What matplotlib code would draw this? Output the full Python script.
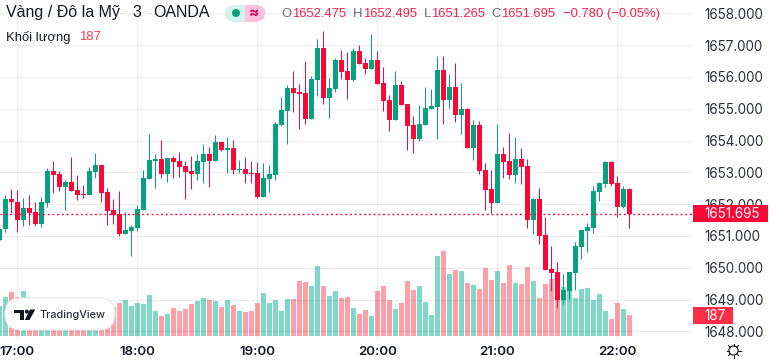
import numpy as np
import matplotlib
matplotlib.use('Agg')
import matplotlib.pyplot as plt
from matplotlib.patches import Circle, FancyBboxPatch, Polygon, Rectangle

plt.rcParams['font.family'] = ['Inter', 'DejaVu Sans']
SANS = ['Liberation Sans', 'DejaVu Sans']

# 3 minute bars, index 3 = 17:00
opens = [1650.86, 1651.22, 1652.17, 1652.08, 1651.49, 1651.89, 1651.76, 1651.38, 1652.05, 1653.05,
         1652.96, 1652.55, 1652.70, 1652.45, 1652.33, 1652.30, 1653.02, 1653.24, 1652.39, 1651.83,
         1651.70, 1651.07, 1651.16, 1651.26, 1651.83, 1652.80, 1653.37, 1653.43, 1652.96, 1653.46,
         1653.37, 1653.21, 1653.05, 1652.96, 1653.33, 1653.59, 1653.37, 1653.96, 1653.71, 1653.77,
         1653.08, 1653.11, 1652.99, 1652.99, 1652.23, 1652.80, 1652.92, 1654.48, 1654.94, 1655.66,
         1655.53, 1655.50, 1654.68, 1655.91, 1656.92, 1655.34, 1655.63, 1656.54, 1656.19, 1655.91,
         1656.82, 1656.44, 1656.26, 1656.54, 1655.82, 1655.28, 1654.65, 1655.75, 1655.15, 1654.49,
         1654.05, 1654.49, 1655.00, 1655.06, 1656.22, 1655.28, 1655.69, 1654.81, 1655.00, 1653.78,
         1654.49, 1653.08, 1652.49, 1652.05, 1653.59, 1653.37, 1652.93, 1653.43, 1653.21, 1651.51,
         1652.17, 1651.04, 1649.97, 1649.87, 1649.00, 1649.27, 1649.84, 1650.66, 1651.16, 1651.26,
         1652.39, 1652.64, 1653.33, 1652.67, 1651.92, 1652.475]
highs = [1651.22, 1652.30, 1652.49, 1652.45, 1652.20, 1652.30, 1652.08, 1652.23, 1653.15, 1653.37,
         1653.05, 1652.77, 1653.49, 1652.93, 1652.61, 1653.18, 1653.62, 1653.24, 1652.52, 1652.17,
         1652.42, 1651.76, 1651.35, 1651.98, 1653.08, 1654.21, 1653.59, 1654.03, 1653.46, 1653.52,
         1653.65, 1653.37, 1653.52, 1653.59, 1653.90, 1653.81, 1654.18, 1653.96, 1654.12, 1654.03,
         1653.40, 1653.49, 1653.37, 1653.33, 1653.30, 1653.24, 1654.59, 1655.37, 1655.75, 1656.19,
         1655.78, 1656.51, 1656.04, 1657.20, 1657.45, 1655.97, 1656.60, 1656.85, 1656.79, 1656.92,
         1657.01, 1656.60, 1657.36, 1656.82, 1656.32, 1655.44, 1656.19, 1655.88, 1655.15, 1654.78,
         1655.13, 1655.69, 1655.63, 1656.66, 1656.66, 1656.10, 1656.44, 1655.82, 1655.03, 1654.65,
         1654.62, 1653.30, 1653.08, 1654.53, 1653.81, 1654.25, 1654.12, 1653.77, 1653.43, 1652.20,
         1652.52, 1651.60, 1650.69, 1650.19, 1649.81, 1649.87, 1650.82, 1651.20, 1651.42, 1652.58,
         1652.70, 1653.37, 1653.37, 1652.89, 1652.58, 1652.495]
lows = [1650.86, 1651.14, 1651.73, 1651.11, 1651.32, 1651.35, 1651.32, 1651.29, 1651.92, 1652.36,
        1652.42, 1651.83, 1652.42, 1652.14, 1652.20, 1652.30, 1652.83, 1652.08, 1651.35, 1651.38,
        1651.01, 1651.07, 1650.38, 1651.16, 1651.83, 1652.80, 1652.52, 1652.83, 1652.70, 1652.83,
        1652.86, 1652.17, 1652.49, 1652.77, 1652.67, 1652.55, 1653.37, 1653.68, 1652.99, 1652.96,
        1652.99, 1652.67, 1652.67, 1652.20, 1652.23, 1652.39, 1652.76, 1654.46, 1653.90, 1654.90,
        1654.37, 1654.53, 1654.68, 1655.41, 1655.15, 1654.71, 1655.53, 1655.94, 1655.31, 1655.88,
        1656.41, 1656.10, 1656.26, 1655.78, 1654.94, 1654.31, 1654.65, 1655.13, 1653.71, 1653.61,
        1653.99, 1654.49, 1655.00, 1654.05, 1654.53, 1655.03, 1654.59, 1654.21, 1653.77, 1653.39,
        1652.95, 1651.83, 1651.72, 1652.05, 1652.83, 1652.80, 1652.67, 1652.64, 1651.26, 1651.07,
        1650.76, 1649.93, 1649.27, 1648.74, 1648.87, 1649.02, 1649.30, 1650.28, 1650.50, 1651.10,
        1652.11, 1652.55, 1652.58, 1651.60, 1651.89, 1651.265]
closes = [1651.22, 1652.17, 1652.06, 1651.49, 1651.89, 1651.73, 1651.38, 1652.08, 1653.05, 1652.93,
          1652.55, 1652.70, 1652.42, 1652.30, 1652.30, 1653.05, 1653.24, 1652.36, 1651.79, 1651.67,
          1651.07, 1651.20, 1651.29, 1651.86, 1652.83, 1653.40, 1653.43, 1652.96, 1653.46, 1653.33,
          1653.18, 1653.02, 1652.96, 1653.37, 1653.59, 1653.37, 1653.96, 1653.71, 1653.77, 1653.08,
          1653.11, 1652.96, 1652.96, 1652.23, 1652.83, 1652.95, 1654.53, 1654.97, 1655.66, 1655.50,
          1655.47, 1654.68, 1655.94, 1656.92, 1655.34, 1655.66, 1656.54, 1656.16, 1655.91, 1656.82,
          1656.41, 1656.26, 1656.54, 1655.78, 1655.25, 1654.65, 1655.75, 1655.13, 1654.46, 1654.05,
          1654.53, 1655.03, 1655.09, 1656.22, 1655.28, 1655.69, 1654.81, 1655.00, 1653.77, 1654.49,
          1653.05, 1652.45, 1652.05, 1653.59, 1653.33, 1652.93, 1653.43, 1653.18, 1651.51, 1652.17,
          1651.01, 1649.93, 1649.84, 1649.00, 1649.30, 1649.87, 1650.69, 1651.20, 1651.29, 1652.42,
          1652.67, 1653.33, 1652.64, 1651.92, 1652.49, 1651.695]
volumes = [267, 347, 392, 350, 401, 246, 232, 246, 291, 261, 238, 261, 232, 217, 246, 276, 217, 261, 232, 261,
           294, 321, 267, 294, 285, 365, 223, 178, 196, 249, 223, 241, 285, 312, 339, 321, 312, 258, 321, 276,
           223, 214, 220, 294, 383, 294, 321, 223, 330, 330, 490, 481, 446, 624, 446, 356, 401, 339, 347, 249,
           196, 232, 178, 401, 446, 321, 241, 294, 490, 410, 446, 303, 187, 713, 757, 552, 588, 579, 472, 454,
           419, 606, 499, 579, 472, 633, 472, 463, 615, 490, 339, 463, 508, 499, 437, 410, 339, 419, 428, 321,
           374, 223, 151, 294, 241, 187]

price_ticks = [1648, 1649, 1650, 1651, 1652, 1653, 1654, 1655, 1656, 1657, 1658]
time_ticks = [3, 23, 43, 63, 83, 103]
time_labels = ['17:00', '18:00', '19:00', '20:00', '21:00', '22:00']
last_price = 1651.695
last_volume = 187

GREEN = '#06a17e'
RED = '#ff0538'
TEXT = '#131722'

x = np.arange(len(opens))
opens = np.array(opens)
closes = np.array(closes)
up = closes >= opens
colors = np.where(up, GREEN, RED)
vol_colors = np.where(up, '#80d8c9', '#ffa0a8')

fig = plt.figure(figsize=(7.73, 3.63), dpi=100)
rect = [0, 23 / 363, 692 / 773, 340 / 363]

# volumes go underneath, on their own scale
ax_vol = fig.add_axes(rect, zorder=0)
ax_vol.bar(x, volumes, width=5 / 6, color=vol_colors, linewidth=0)
ax_vol.set_xlim(0.5 / 6, 692.5 / 6)
ax_vol.set_ylim(-35.6, 2990)
ax_vol.axis('off')

ax = fig.add_axes(rect, zorder=1)
ax.patch.set_visible(False)
ax.vlines(x, lows, highs, color=colors, linewidth=0.72, zorder=3)
ax.bar(x, np.abs(closes - opens), bottom=np.minimum(opens, closes), width=5 / 6,
       color=colors, linewidth=0, zorder=4)
ax.axhline(last_price, color=RED, linewidth=1, linestyle=(0, (1.4, 2)), zorder=5)

ax.set_xlim(0.5 / 6, 692.5 / 6)
ax.set_ylim(1647.73, 1658.42)
ax.set_xticks(time_ticks)
ax.set_xticklabels(time_labels, fontsize=9.6, fontweight='semibold', color=TEXT)
ax.set_yticks(price_ticks)
ax.set_yticklabels([f'{p:.3f}' for p in price_ticks], fontsize=9.7, color='#2a2e39')
ax.yaxis.tick_right()
ax.tick_params(length=0)
ax.tick_params(axis='x', pad=4.3)
ax.tick_params(axis='y', pad=8.6)
ax.grid(True, color='black', alpha=0.065, linewidth=0.9)
ax.set_axisbelow(True)
for s in ax.spines.values():
    s.set_visible(False)

# overlay in pixel coordinates for the header, price tags and logo
ov = fig.add_axes([0, 0, 1, 1], zorder=5)
ov.set_xlim(0, 773)
ov.set_ylim(363, 0)
ov.axis('off')

ov.text(6, 12.5, 'Vàng / Đô la Mỹ', fontsize=11.5, family=SANS, color=TEXT, va='center')
ov.text(125.5, 12.5, '·', fontsize=9, family=SANS, color='#b2b5be', va='center', ha='center')
ov.text(132, 12.5, '3', fontsize=11.5, family=SANS, color=TEXT, va='center')
ov.text(146, 12.5, '·', fontsize=9, family=SANS, color='#b2b5be', va='center', ha='center')
ov.text(153, 12.5, 'OANDA', fontsize=11.5, family=SANS, color=TEXT, va='center')
ov.text(6, 37.5, 'Khối lượng', fontsize=9.4, family=SANS, color=TEXT, va='center')
ov.text(79, 37.5, '187', fontsize=9.4, family=SANS, color='#ff3b4e', va='center')

# market status pill
ov.add_patch(Circle((233, 13.25), 8.25, fc='#d5f3ec', ec='none'))
ov.add_patch(Circle((257, 13.25), 8.25, fc='#ffc2dd', ec='none'))
ov.add_patch(Rectangle((233, 5), 12, 16.5, fc='#d5f3ec', ec='none'))
ov.add_patch(Rectangle((245, 5), 12, 16.5, fc='#ffc2dd', ec='none'))
ov.add_patch(Circle((236, 13), 4, fc=GREEN, ec='none'))
ov.text(254, 12.5, '≈', fontsize=11, color='#d5005e', ha='center', va='center', fontweight='bold')

# ohlc row
lab = '#6a6d78'
val = '#f7234a'
for px, t, c in [(281, 'O', lab), (292.5, '1652.475', val), (353, 'H', lab), (363, '1652.495', val),
                 (424, 'L', lab), (431, '1651.265', val), (491, 'C', lab), (501.5, '1651.695', val),
                 (563, '−0.780 (−0.05%)', val)]:
    ov.text(px, 14, t, fontsize=9.4, family=SANS, color=c, va='center')

# price and volume tags
ov.add_patch(Rectangle((693, 205), 75, 17, fc=RED, ec='none'))
ov.text(704, 213.5, f'{last_price:.3f}', fontsize=9.7, color='white', va='center')
ov.add_patch(Rectangle((693, 307), 40, 17, fc='#ff2d46', ec='none'))
ov.text(704, 315.5, f'{last_volume}', fontsize=9.7, color='white', va='center')

# logo pill
ov.add_patch(FancyBboxPatch((21, 298), 78, 32, boxstyle='round,pad=0,rounding_size=16',
                            fc='white', ec='none'))
ov.add_patch(FancyBboxPatch((5, 298), 110, 32, boxstyle='round,pad=0,rounding_size=16',
                            fc='white', ec='#e6e6e6', linewidth=0.8))
ov.add_patch(Polygon([(14, 309.5), (24, 309.5), (24, 320), (19.5, 320), (19.5, 313), (14, 313)], fc=TEXT, ec='none'))
ov.add_patch(Circle((26.8, 311.6), 2, fc=TEXT, ec='none'))
ov.add_patch(Polygon([(30, 309.5), (35.3, 309.5), (29.5, 320), (24.8, 320)], fc=TEXT, ec='none'))
ov.text(40, 314.5, 'TradingView', fontsize=7.8, fontweight='medium', color='#2a2e39', va='center')

# settings gear on the time axis
gx, gy = 733.5, 350.5
ov.add_patch(Circle((gx, gy), 4.6, fc='none', ec=TEXT, linewidth=0.8))
for a in np.deg2rad(np.arange(0, 360, 45)):
    ov.plot([gx + 4.6 * np.cos(a), gx + 7 * np.cos(a)], [gy + 4.6 * np.sin(a), gy + 7 * np.sin(a)],
            color=TEXT, linewidth=0.8)

fig.savefig('out.png', dpi=100)
